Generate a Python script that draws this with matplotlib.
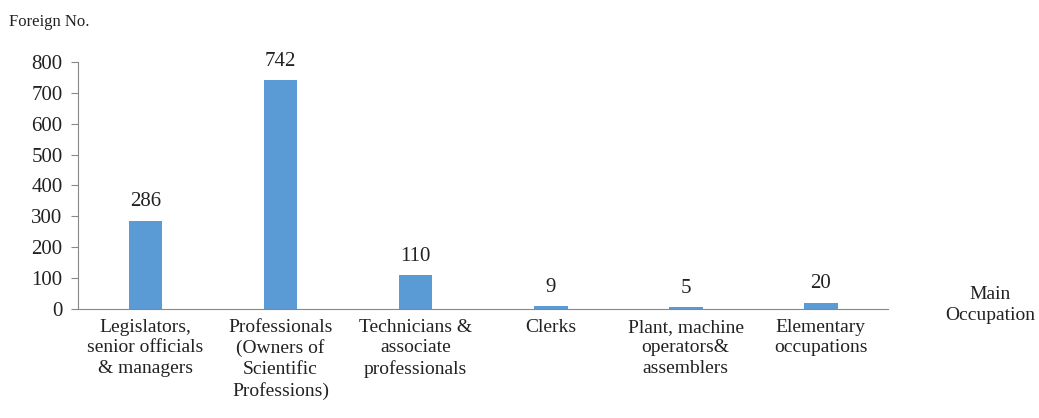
import matplotlib.pyplot as plt

categories = ['Legislators,\nsenior officials\n& managers',
              'Professionals\n(Owners of\nScientific\nProfessions)',
              'Technicians &\nassociate\nprofessionals',
              'Clerks',
              'Plant, machine\noperators&\nassemblers',
              'Elementary\noccupations']
values = [286, 742, 110, 9, 5, 20]

plt.rcParams['font.family'] = ['Liberation Serif', 'DejaVu Serif']

fig = plt.figure(figsize=(10.39, 4.18), dpi=100)
ax = fig.add_axes([0.075, 0.261, 0.78, 0.591])

x = range(len(values))
bars = ax.bar(x, values, width=0.25, color='#5B9BD5')
for i, v in enumerate(values):
    ax.text(i, v + 30, str(v), ha='center', va='bottom', fontsize=15, color='#222222')

ax.set_xlim(-0.5, len(values) - 0.5)
ax.set_ylim(0, 800)
ax.set_yticks(range(0, 801, 100))
ax.set_xticks(list(x))
ax.set_xticklabels(categories, fontsize=14, color='#222222', linespacing=1.27)
ax.tick_params(axis='x', length=0, pad=7)
ax.tick_params(axis='y', labelsize=15, labelcolor='#222222', length=5, color='#888888',
               direction='out', pad=6)
for s in ['top', 'right']:
    ax.spines[s].set_visible(False)
ax.spines['left'].set_color('#888888')
ax.spines['bottom'].set_color('#888888')

fig.text(0.009, 0.948, 'Foreign No.', fontsize=12, color='#222222', ha='left', va='center')
fig.text(0.953, 0.315, 'Main\nOccupation', fontsize=14, color='#222222', ha='center', va='top',
         linespacing=1.27)

fig.savefig('out.png', dpi=100)
